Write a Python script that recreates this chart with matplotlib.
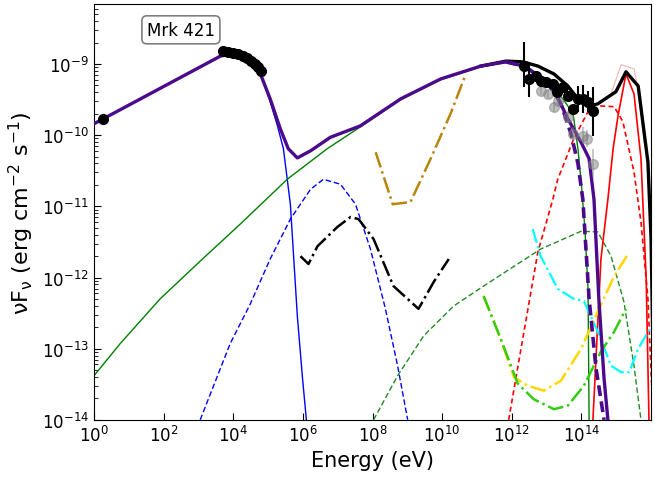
"""
Mrk 421 SED: model components and data, log-log axes.
"""

import numpy as np
import matplotlib
matplotlib.use("Agg")
import matplotlib.pyplot as plt
from matplotlib.ticker import FixedLocator, NullLocator, LogFormatterMathtext

plt.rcParams["mathtext.default"] = "regular"

# ---------------------------------------------------------------------------
# Data (log10 E [eV], log10 nuFnu [erg cm^-2 s^-1])
# ---------------------------------------------------------------------------

total_logE = [0.00, 3.63, 3.91, 4.35, 4.78, 5.06, 5.35, 5.58, 5.84, 6.22, 6.79, 7.65,
              8.81, 9.96, 11.11, 11.83, 12.35, 12.83, 13.27, 13.61, 13.99, 14.22,
              14.36, 14.50, 14.65, 14.76]
total_logF = [-9.84, -8.89, -8.86, -8.90, -9.14, -9.49, -9.91, -10.19, -10.32, -10.22,
              -10.03, -9.87, -9.49, -9.21, -9.03, -8.97, -9.03, -9.18, -9.42, -9.77,
              -10.10, -10.33, -10.90, -12.30, -13.42, -14.00]

total_b_logE = [11.83, 12.35, 12.83, 13.12, 13.41, 13.70, 13.90, 14.04, 14.22, 14.42, 14.65]
total_b_logF = [-8.97, -9.03, -9.18, -9.32, -9.56, -9.98, -10.40, -10.90, -12.30, -13.28, -14.00]

sync_logE = [0.00, 3.63, 3.91, 4.35, 4.78, 5.06, 5.27, 5.44, 5.64, 5.84, 5.99, 6.10]
sync_logF = [-9.84, -8.89, -8.86, -8.90, -9.14, -9.53, -9.87, -10.19, -10.97, -12.54, -13.42, -14.00]

ssc_logE = [0.00, 0.75, 1.90, 3.05, 4.20, 5.55, 6.70, 7.57, 8.81, 9.96, 11.11, 11.83,
            12.35, 13.12, 13.47, 13.76, 13.90, 14.01, 14.10, 14.19, 14.22]
ssc_logF = [-13.38, -12.93, -12.30, -11.77, -11.25, -10.62, -10.19, -9.91, -9.50, -9.22,
            -9.04, -8.98, -9.04, -9.33, -9.49, -9.70, -10.19, -10.76, -11.32, -12.16, -14.00]

pair_sync_logE = [3.05, 3.91, 4.49, 5.06, 5.64, 6.22, 6.59, 7.08, 7.51, 7.94, 8.37, 8.72, 9.01]
pair_sync_logF = [-14.00, -12.93, -12.37, -11.74, -11.18, -10.76, -10.62, -10.69, -10.97,
                  -11.60, -12.44, -13.24, -14.00]

mev_sens_logE = [5.93, 6.16, 6.42, 6.99, 7.37, 7.60, 8.03, 8.60, 9.32, 9.76, 10.19]
mev_sens_logF = [-11.70, -11.81, -11.56, -11.29, -11.15, -11.18, -11.46, -12.12, -12.44,
                 -12.06, -11.74]

lat_sens_logE = [8.09, 8.58, 9.09, 9.67, 10.24, 10.68]
lat_sens_logF = [-10.24, -10.97, -10.94, -10.33, -9.70, -9.14]

pair_ic_logE = [8.03, 8.72, 9.47, 10.33, 11.19, 12.83, 13.99, 14.47, 14.85, 15.22, 15.51, 15.71]
pair_ic_logF = [-14.00, -13.38, -12.82, -12.40, -12.12, -11.60, -11.35, -11.36, -11.70,
                -12.34, -13.24, -14.00]

had_dash_logE = [11.91, 12.35, 12.75, 13.18, 13.32, 13.78, 14.19, 14.56, 14.94, 15.19,
                 15.51, 15.71, 15.91, 16.06]
had_dash_logF = [-14.00, -12.76, -11.64, -10.90, -10.62, -10.05, -9.67, -9.59, -9.60,
                 -9.81, -10.52, -11.22, -12.30, -14.00]

had_logE = [14.33, 14.56, 14.76, 14.91, 15.05, 15.28, 15.51, 15.71, 15.86, 15.94]
had_logF = [-14.00, -11.74, -10.90, -10.19, -9.73, -9.14, -9.42, -10.33, -12.02, -14.00]

had_band_logE = [14.85, 15.14, 15.51, 15.65, 15.80]
had_band_logF = [-9.42, -9.01, -9.07, -9.42, -10.10]

sum_logE = [11.11, 11.83, 12.32, 12.75, 13.21, 13.61, 13.90, 14.19, 14.47, 14.99, 15.28,
            15.63, 15.91, 16.00, 16.09]
sum_logF = [-9.03, -8.96, -8.97, -9.03, -9.14, -9.31, -9.49, -9.60, -9.56, -9.39, -9.11,
            -9.31, -10.38, -11.46, -14.00]

cta_logE = [12.60, 12.83, 13.32, 13.78, 14.07, 14.47, 14.85, 15.14, 15.37, 15.63, 16.09]
cta_logF = [-11.32, -11.70, -12.16, -12.30, -12.33, -12.76, -13.24, -13.33, -13.33, -13.00, -12.62]

lhaaso_logE = [11.19, 11.68, 12.06, 12.46, 12.92, 13.41, 13.99, 14.47, 14.94, 15.34]
lhaaso_logF = [-12.26, -12.86, -13.40, -13.52, -13.59, -13.45, -13.00, -12.48, -11.98, -11.67]

swgo_logE = [11.19, 11.68, 12.17, 12.63, 13.21, 13.61, 14.07, 14.56, 14.94, 15.28]
swgo_logF = [-12.26, -12.86, -13.49, -13.71, -13.85, -13.80, -13.52, -13.04, -12.76, -12.44]

radio_logE = [0.26]
radio_logF = [-9.77]

optx_logE = [3.71, 3.86, 4.00, 4.14, 4.29, 4.40, 4.52, 4.63, 4.72, 4.81]
optx_logF = [-8.82, -8.83, -8.85, -8.86, -8.89, -8.92, -8.96, -9.00, -9.04, -9.10]

gam_logE = [12.35, 12.49, 12.69, 12.83, 12.98, 13.18, 13.29, 13.47, 13.61, 13.76, 13.90,
            14.04, 14.19, 14.33]
gam_logF = [-9.03, -9.21, -9.17, -9.24, -9.25, -9.28, -9.39, -9.32, -9.45, -9.63, -9.49,
            -9.49, -9.53, -9.66]
gam_err_lo = [0.29, 0.25, 0.06, 0.06, 0.05, 0.05, 0.05, 0.05, 0.06, 0.07, 0.18, 0.20, 0.15, 0.35]
gam_err_hi = [0.34, 0.17, 0.05, 0.05, 0.05, 0.05, 0.05, 0.05, 0.06, 0.07, 0.18, 0.20, 0.15, 0.34]

grey_logE = [12.83, 13.04, 13.21, 13.32, 13.61, 13.76, 14.04, 14.16, 14.33]
grey_logF = [-9.38, -9.42, -9.60, -9.52, -9.74, -9.98, -10.01, -10.05, -10.40]
grey_err = [0.06, 0.06, 0.07, 0.07, 0.08, 0.10, 0.12, 0.12, 0.20]

x_ticks = [0, 2, 4, 6, 8, 10, 12, 14]


def p(a):
    return 10.0 ** np.asarray(a)


def asym_err(logF, lo, hi):
    f = p(logF)
    return [f - p(np.asarray(logF) - np.asarray(lo)), p(np.asarray(logF) + np.asarray(hi)) - f]


fig = plt.figure(figsize=(6.55, 4.81), dpi=100)
ax = fig.add_axes([0.1435, 0.125, 0.8505, 0.865])

purple = "#4B0A8C"

# thin model components
ax.plot(p(sync_logE), p(sync_logF), color="blue", lw=1.0, zorder=2)
ax.plot(p(ssc_logE), p(ssc_logF), color="green", lw=1.0, zorder=2)
ax.plot(p(pair_sync_logE), p(pair_sync_logF), color="blue", lw=1.0, ls=(0, (4, 2)), zorder=2)
ax.plot(p(pair_ic_logE), p(pair_ic_logF), color="forestgreen", lw=1.0, ls=(0, (4, 2)), zorder=2)
ax.plot(p(had_dash_logE), p(had_dash_logF), color="red", lw=1.2, ls=(0, (3, 2)), zorder=2)
ax.plot(p(had_logE), p(had_logF), color="red", lw=1.2, zorder=2)
ax.plot(p(had_band_logE), p(had_band_logF), color="lightcoral", lw=0.8, alpha=0.6, zorder=2)

# instrument sensitivities (dash-dot)
ax.plot(p(mev_sens_logE), p(mev_sens_logF), color="black", lw=1.8, ls="-.", zorder=3)
ax.plot(p(lat_sens_logE), p(lat_sens_logF), color="darkgoldenrod", lw=1.8, ls="-.", zorder=3)
ax.plot(p(cta_logE), p(cta_logF), color="cyan", lw=1.6, ls="-.", zorder=3)
ax.plot(p(lhaaso_logE), p(lhaaso_logF), color="gold", lw=1.8, ls="-.", zorder=3)
ax.plot(p(swgo_logE), p(swgo_logF), color="#33CC11", lw=1.8, ls="-.", zorder=3)

# total models
ax.plot(p(sum_logE), p(sum_logF), color="black", lw=2.4, zorder=4)
ax.plot(p(total_b_logE), p(total_b_logF), color=purple, lw=2.6, ls=(0, (3, 1.5)), zorder=4)
ax.plot(p(total_logE), p(total_logF), color=purple, lw=2.4, zorder=5)

# data
ax.errorbar(p(grey_logE), p(grey_logF), yerr=asym_err(grey_logF, grey_err, grey_err),
            fmt="o", color="grey", ms=7, alpha=0.5, elinewidth=1.2, zorder=6)
ax.plot(p(radio_logE), p(radio_logF), "o", color="black", ms=7, zorder=7)
ax.plot(p(optx_logE), p(optx_logF), "o", color="black", ms=7, zorder=7)
ax.errorbar(p(gam_logE), p(gam_logF), yerr=asym_err(gam_logF, gam_err_lo, gam_err_hi),
            fmt="o", color="black", ms=7, elinewidth=1.5, zorder=7)

ax.set_xscale("log")
ax.set_yscale("log")
ax.set_xlim(1e0, 1e16)
ax.set_ylim(1e-14, 7e-9)

ax.xaxis.set_major_locator(FixedLocator(p(x_ticks)))
ax.xaxis.set_minor_locator(NullLocator())
ax.xaxis.set_major_formatter(LogFormatterMathtext())
ax.tick_params(which="both", direction="in", labelsize=12)
ax.tick_params(which="major", length=5)
ax.tick_params(which="minor", length=3)

ax.set_xlabel("Energy (eV)", fontsize=15)
ax.set_ylabel(r"$\nu F_{\nu}$ (erg cm$^{-2}$ s$^{-1}$)", fontsize=16)

ax.text(0.156, 0.9375, "Mrk 421", transform=ax.transAxes, ha="center", va="center",
        fontsize=12,
        bbox=dict(boxstyle="round,pad=0.3", fc="white", ec="grey", lw=1.2))

fig.savefig("out.png", dpi=100)
